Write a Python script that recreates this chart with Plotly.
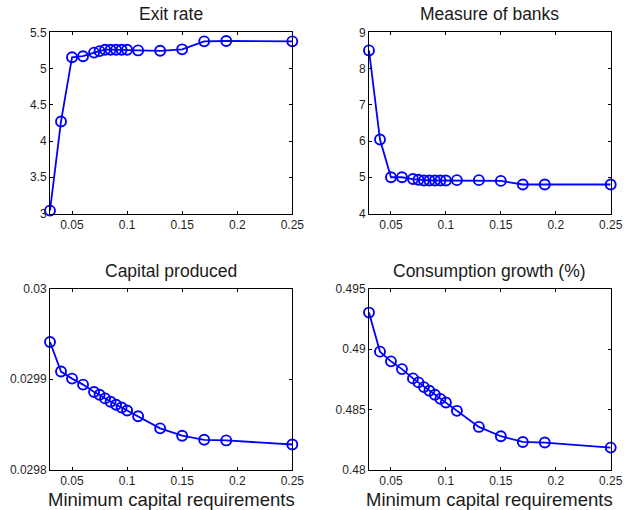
import plotly.graph_objects as go

x_req = [0.03, 0.04, 0.05, 0.06, 0.07, 0.075, 0.08, 0.085, 0.09, 0.095, 0.1, 0.11, 0.13, 0.15, 0.17, 0.19, 0.25]
exit_rate = [3.04, 4.27, 5.155, 5.17, 5.22, 5.24, 5.26, 5.26, 5.26, 5.26, 5.26, 5.25, 5.245, 5.265, 5.375, 5.38, 5.375]
measure_banks = [8.50, 6.04, 5.00, 5.00, 4.95, 4.93, 4.91, 4.91, 4.91, 4.91, 4.91, 4.92, 4.92, 4.90, 4.80, 4.80, 4.80]
capital_produced = [0.029941, 0.0299085, 0.0299007, 0.0298941, 0.0298859, 0.029883, 0.0298789, 0.0298752,
                    0.0298719, 0.0298689, 0.0298656, 0.0298593, 0.0298459, 0.0298378, 0.0298333, 0.0298326, 0.0298281]
consumption_growth = [0.49301, 0.48978, 0.48898, 0.48834, 0.48757, 0.48724, 0.48685, 0.48655, 0.48622,
                      0.48588, 0.48558, 0.48489, 0.48356, 0.48279, 0.48232, 0.48227, 0.48185]

titles = ["Exit rate", "Measure of banks", "Capital produced", "Consumption growth (%)"]
x_ticks = [0.05, 0.1, 0.15, 0.2, 0.25]
x_ticktext = ["0.05", "0.1", "0.15", "0.2", "0.25"]
y_ticks = [
    [3, 3.5, 4, 4.5, 5, 5.5],
    [4, 5, 6, 7, 8, 9],
    [0.0298, 0.0299, 0.03],
    [0.48, 0.485, 0.49, 0.495],
]
y_ticktext = [
    ["3", "3.5", "4", "4.5", "5", "5.5"],
    ["4", "5", "6", "7", "8", "9"],
    ["0.0298", "0.0299", "0.03"],
    ["0.48", "0.485", "0.49", "0.495"],
]
y_ranges = [[3, 5.5], [4, 9], [0.0298, 0.03], [0.48, 0.495]]
series = [exit_rate, measure_banks, capital_produced, consumption_growth]
x_label = "Minimum capital requirements"

W, H = 624, 510


def px_x(v):
    return v / W


def px_y(v):
    return 1 - v / H


xdoms = [[px_x(50), px_x(292.3)], [px_x(369), px_x(610.7)]]
ydoms = [[px_y(213.5), px_y(32.3)], [px_y(470), px_y(288.5)]]

font = "Liberation Sans, Arial, Helvetica, sans-serif"
fig = go.Figure()
layout = dict(
    width=W, height=H, margin=dict(l=0, r=0, t=0, b=0, autoexpand=False),
    paper_bgcolor="white", plot_bgcolor="white", showlegend=False,
    font=dict(family=font, color="#262626"),
)
annotations = []
for i in range(4):
    r, c = divmod(i, 2)
    xa = "xaxis" if i == 0 else f"xaxis{i+1}"
    ya = "yaxis" if i == 0 else f"yaxis{i+1}"
    xref = "x" if i == 0 else f"x{i+1}"
    yref = "y" if i == 0 else f"y{i+1}"
    fig.add_trace(go.Scatter(
        x=x_req, y=series[i], mode="lines+markers", xaxis=xref, yaxis=yref,
        line=dict(color="#0000ff", width=1.8),
        marker=dict(symbol="circle-open", size=10, color="#0000ff", line=dict(width=1.9, color="#0000ff")),
        cliponaxis=False,
    ))
    layout[xa] = dict(
        domain=xdoms[c], anchor=yref, range=[0.03, 0.25], automargin=False,
        tickvals=x_ticks, ticktext=x_ticktext, ticks="inside", ticklen=3,
        tickcolor="black", showline=True, linecolor="black", linewidth=1,
        mirror="ticks", showgrid=False, zeroline=False,
        tickfont=dict(size=12, color="#1f1f1f"),
    )
    layout[ya] = dict(
        domain=ydoms[r], anchor=xref, range=y_ranges[i], automargin=False,
        tickvals=y_ticks[i], ticktext=y_ticktext[i], ticks="inside", ticklen=3,
        tickcolor="black", showline=True, linecolor="black", linewidth=1,
        mirror="ticks", showgrid=False, zeroline=False,
        tickfont=dict(size=12, color="#1f1f1f"),
    )
    cx = (xdoms[c][0] + xdoms[c][1]) / 2
    annotations.append(dict(
        text=titles[i], x=cx, xref="paper", y=ydoms[r][1], yref="paper",
        yshift=6, xanchor="center", yanchor="bottom", showarrow=False,
        font=dict(size=17.5, color="#1a1a1a", family=font),
    ))
    if r == 1:
        annotations.append(dict(
            text=x_label, x=cx, xref="paper", y=ydoms[r][0], yref="paper",
            yshift=-17, xanchor="center", yanchor="top", showarrow=False,
            font=dict(size=18.5, color="#1a1a1a", family=font),
        ))
layout["annotations"] = annotations
fig.update_layout(**layout)
fig.write_html(
    "out.html",
    config={"displayModeBar": False},
    post_script="document.body.style.margin='0';document.documentElement.style.overflow='hidden';",
)
